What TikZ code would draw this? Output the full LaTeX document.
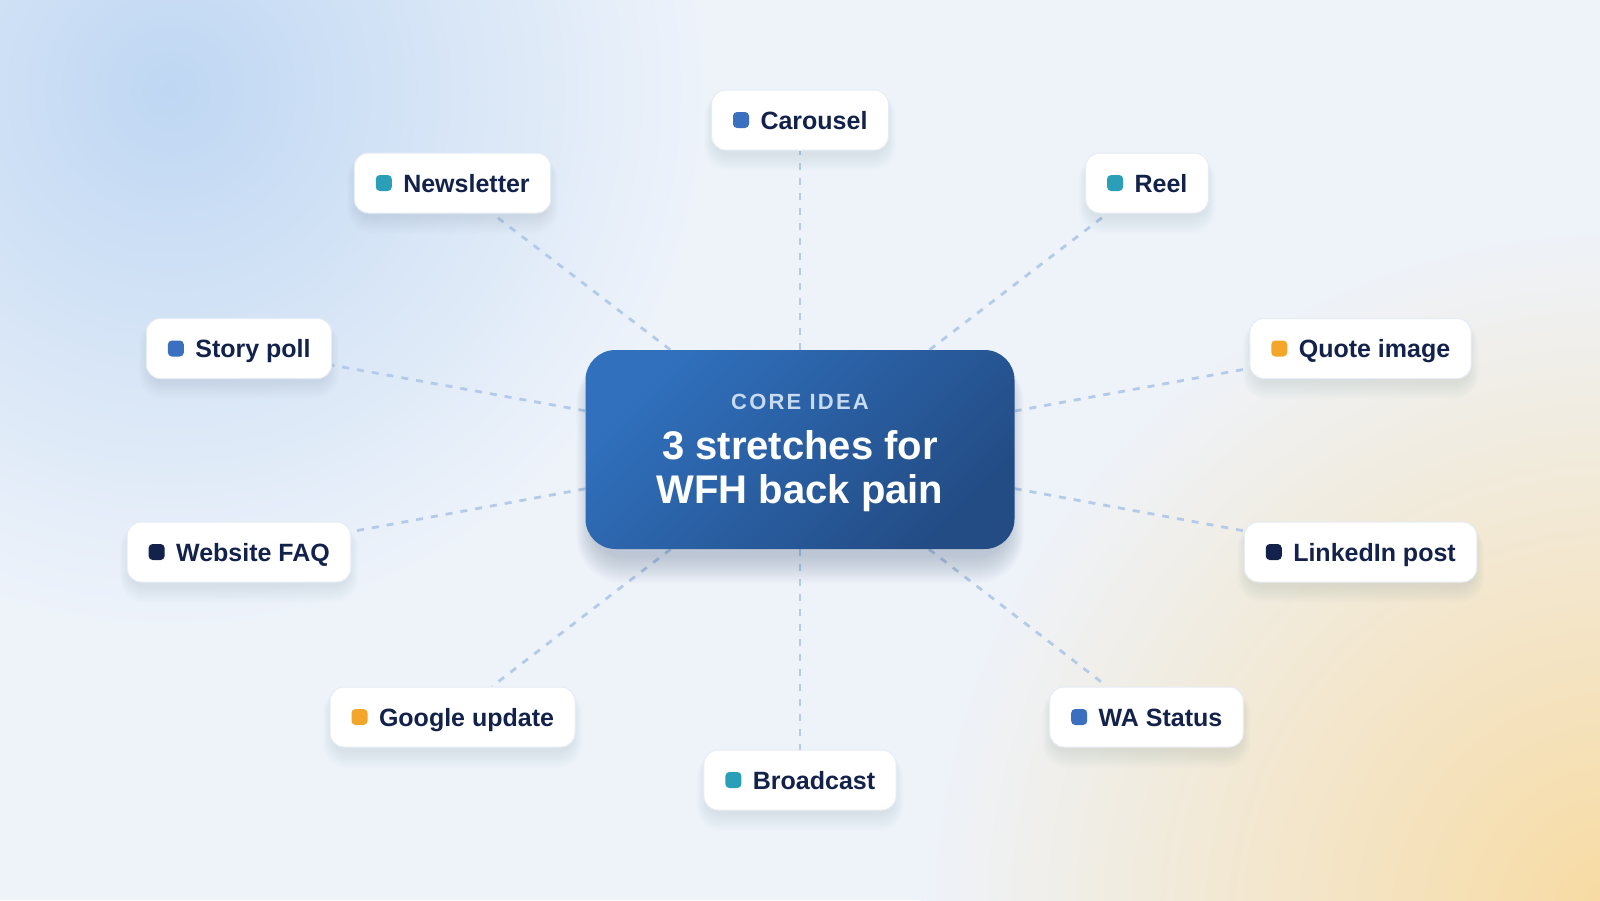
\documentclass[tikz,border=0pt]{standalone}
\usepackage{fontspec}
\setmainfont{Liberation Sans}
\usepackage{xcolor}
\usetikzlibrary{positioning, calc}

\definecolor{pageBg}{HTML}{EEF3FA}
\definecolor{blobBlue}{HTML}{BFD7F3}
\definecolor{blobSand}{HTML}{F8DAA0}
\definecolor{hubTop}{HTML}{3070BD}
\definecolor{hubBot}{HTML}{234C85}
\definecolor{coreTxt}{HTML}{C8DBF1}
\definecolor{ink}{HTML}{13224A}
\definecolor{linkBlue}{HTML}{B3CBE8}
\definecolor{pillEdge}{HTML}{E6ECF5}
\definecolor{shadowInk}{HTML}{3A5078}
\definecolor{dotBlue}{HTML}{3B6FC0}
\definecolor{dotTeal}{HTML}{2A9FB7}
\definecolor{dotAmber}{HTML}{F4A62A}
\definecolor{dotNavy}{HTML}{13224A}

\pgfdeclarelayer{bg}
\pgfdeclarelayer{links}
\pgfdeclarelayer{shadows}
\pgfsetlayers{bg,links,shadows,main}

\tikzset{
  hub/.style={rounded corners=30pt, minimum width=429pt, minimum height=199pt,
    top color=hubTop, bottom color=hubBot, shading angle=45,
    text=white, align=center, inner sep=0pt,
    font=\fontsize{40}{44}\selectfont\bfseries},
  pill/.style={fill=white, draw=pillEdge, line width=1pt, rounded corners=14pt,
    minimum height=60pt, inner xsep=21pt, text height=18pt, text depth=0pt,
    text=ink, font=\fontsize{25}{30}\selectfont\bfseries},
  dot/.style={rounded corners=4pt},
  link/.style={draw=linkBlue, line width=2.8pt, dash pattern=on 7pt off 8pt},
  glow/.style={fill=shadowInk, opacity=0.018},
}

\begin{document}
\begin{tikzpicture}[x=1pt, y=-1pt]
\useasboundingbox (0,0) rectangle (1600,900);

% Background
\begin{pgfonlayer}{bg}
\begin{scope}
\clip (0,0) rectangle (1600,900);
\fill[pageBg] (0,0) rectangle (1600,900);
\shade[inner color=blobBlue, outer color=pageBg] (170,90) circle (540);
\shade[inner color=blobSand, outer color=pageBg] (1620,920) circle (700);
\end{scope}
\end{pgfonlayer}

% Core idea
\node[hub] (hub) at (800,449.5)
  {{\fontsize{22}{26}\selectfont\addfontfeature{LetterSpace=10}\color{coreTxt}\rule{0pt}{22pt}CORE IDEA}\\[6pt]
   3 stretches for\\WFH back pain};

% Formats round the core idea
\foreach \n/\x/\y/\c/\t in {
    carousel/800/120/dotBlue/Carousel,
    news/452.5/183/dotTeal/Newsletter,
    reel/1147/183/dotTeal/Reel,
    poll/239/348.5/dotBlue/Story poll,
    quote/1360.5/348.5/dotAmber/Quote image,
    faq/239/552/dotNavy/Website FAQ,
    linkedin/1360.5/552/dotNavy/LinkedIn post,
    google/452.5/717/dotAmber/Google update,
    wa/1146.5/717/dotBlue/WA Status,
    broadcast/800/780/dotTeal/Broadcast} {
  \node[pill] (\n) at (\x,\y) {\hspace*{28pt}\t};
  \fill[dot, \c] ($(\n.west)+(22,-8)$) rectangle ++(16,16);
}

% Soft shadows
\begin{pgfonlayer}{shadows}
\foreach \k in {2,4,...,28}
  \fill[glow, rounded corners=30pt+0.6*\k] ($(hub.north west)+(8-0.6*\k,14-0.3*\k)$)
    rectangle ($(hub.south east)+(-8+0.6*\k,6+\k)$);
\foreach \n in {carousel,news,reel,poll,quote,faq,linkedin,google,wa,broadcast}
  \foreach \k in {2,4,...,18}
    \fill[glow, opacity=0.012, rounded corners=14pt+0.6*\k] ($(\n.north west)+(4-0.6*\k,8-0.3*\k)$)
      rectangle ($(\n.south east)+(-4+0.6*\k,2+\k)$);
\end{pgfonlayer}

% Dashed links, under everything
\begin{pgfonlayer}{links}
\foreach \n in {carousel,news,reel,poll,quote,faq,linkedin,google,wa,broadcast}
  \draw[link] (hub) -- (\n);
\end{pgfonlayer}
\end{tikzpicture}
\end{document}
